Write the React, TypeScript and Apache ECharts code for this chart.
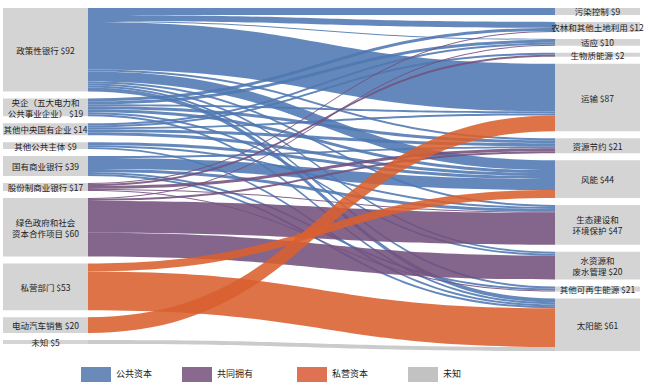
import React, { useEffect, useRef } from "react";
import * as echarts from "echarts";

// Sources (left column)
const sources = [
  "政策性银行",
  "央企（五大电力和公共事业企业）",
  "其他中央国有企业",
  "其他公共主体",
  "国有商业银行",
  "股份制商业银行",
  "绿色政府和社会资本合作项目",
  "私营部门",
  "电动汽车销售",
  "未知",
];
const sourceLabelText = [
  "政策性银行",
  "央企（五大电力和\n公共事业企业）",
  "其他中央国有企业",
  "其他公共主体",
  "国有商业银行",
  "股份制商业银行",
  "绿色政府和社会\n资本合作项目",
  "私营部门",
  "电动汽车销售",
  "未知",
];
const sourceAmounts = [92, 19, 14, 9, 39, 17, 60, 53, 20, 5];
const sourceGroup = [0, 0, 0, 0, 0, 1, 1, 2, 2, 3];

// Targets (right column)
const targets = [
  "污染控制",
  "农林和其他土地利用",
  "适应",
  "生物质能源",
  "运输",
  "资源节约",
  "风能",
  "生态建设和环境保护",
  "水资源和废水管理",
  "其他可再生能源",
  "太阳能",
];
const targetLabelText = [
  "污染控制",
  "农林和其他土地利用",
  "适应",
  "生物质能源",
  "运输",
  "资源节约",
  "风能",
  "生态建设和\n环境保护",
  "水资源和\n废水管理",
  "其他可再生能源",
  "太阳能",
];
const targetAmounts = [9, 12, 10, 2, 87, 21, 44, 47, 20, 21, 61];

// Flow estimates: one row per source, columns in target order
const flowPolicyBanks = [7, 6, 1, 0, 48, 2, 10, 2, 2, 2, 4];
const flowCentralSOE5 = [0, 3, 3, 0, 2, 3, 3, 0, 2, 0, 2];
const flowOtherCentralSOE = [0, 0, 2, 2, 2, 3, 3, 0, 0, 0, 0];
const flowOtherPublic = [0, 0, 0, 0, 0, 0, 3, 2, 0, 0, 2];
const flowStateBanks = [0, 0, 0, 0, 0, 2, 11, 3, 0, 2, 2];
const flowJointStockBanks = [0, 1, 0, 2, 0, 3, 0, 1, 0, 1, 0];
const flowPPP = [0, 0, 1, 0, 0, 2, 0, 32, 24, 0, 0];
const flowPrivate = [0, 0, 0, 0, 0, 0, 8, 0, 0, 0, 39];
const flowEV = [0, 0, 0, 0, 16, 0, 0, 0, 0, 0, 0];
const flowUnknown = [0, 0, 0, 0, 0, 0, 0, 0, 0, 0, 4];
const flows = [
  flowPolicyBanks,
  flowCentralSOE5,
  flowOtherCentralSOE,
  flowOtherPublic,
  flowStateBanks,
  flowJointStockBanks,
  flowPPP,
  flowPrivate,
  flowEV,
  flowUnknown,
];

// Legend
const groupNames = ["公共资本", "共同拥有", "私营资本", "未知"];
const linkColors = ["#4f77b2", "#73507c", "#d9602f", "#c4c4c4"];
const legendColors = ["#6a8bba", "#89698d", "#de7252", "#c2c2c2"];

export default function App() {
  const ref = useRef<HTMLDivElement>(null);
  useEffect(() => {
    document.body.style.margin = "0";
    if (!ref.current) return;
    const chart = echarts.init(ref.current, undefined, { renderer: "svg" });

    const labelMap: Record<string, string> = {};
    sources.forEach((s, i) => {
      labelMap[s] = `${sourceLabelText[i]} $${sourceAmounts[i]}`;
    });
    targets.forEach((t, i) => {
      labelMap[t] = `${targetLabelText[i]} $${targetAmounts[i]}`;
    });

    const nodes = [
      ...sources.map((name) => ({ name, depth: 0 })),
      ...targets.map((name) => ({ name, depth: 1 })),
    ];
    const links: any[] = [];
    flows.forEach((row, si) => {
      row.forEach((v, ti) => {
        if (v > 0) {
          links.push({
            source: sources[si],
            target: targets[ti],
            value: v,
            lineStyle: { color: linkColors[sourceGroup[si]], opacity: 0.88 },
          });
        }
      });
    });

    const legendX = [81, 182, 297, 408];
    const graphic: any[] = [];
    groupNames.forEach((g, i) => {
      graphic.push({
        type: "rect",
        left: legendX[i],
        top: 367,
        shape: { width: 30, height: 15 },
        style: { fill: legendColors[i] },
      });
      graphic.push({
        type: "text",
        left: legendX[i] + 35,
        top: 369,
        style: {
          text: g,
          fill: "#222",
          font: '9px "Noto Sans CJK SC"',
        },
      });
    });

    chart.setOption({
      animation: false,
      backgroundColor: "#ffffff",
      graphic,
      series: [
        {
          type: "sankey",
          left: 3,
          right: 10,
          top: 8,
          bottom: 39,
          nodeWidth: 85,
          nodeGap: 7,
          layoutIterations: 0,
          draggable: false,
          emphasis: { disabled: true },
          data: nodes,
          links,
          itemStyle: { color: "#d4d4d4", borderWidth: 0 },
          lineStyle: { curveness: 0.5 },
          label: {
            position: "inside",
            color: "#222",
            fontSize: 8.5,
            lineHeight: 11,
            fontFamily: '"Noto Sans CJK SC"',
            align: "center",
            formatter: (p: any) => labelMap[p.name] || p.name,
          },
        },
      ],
    });
    return () => chart.dispose();
  }, []);
  return <div ref={ref} style={{ width: 650, height: 390 }} />;
}
